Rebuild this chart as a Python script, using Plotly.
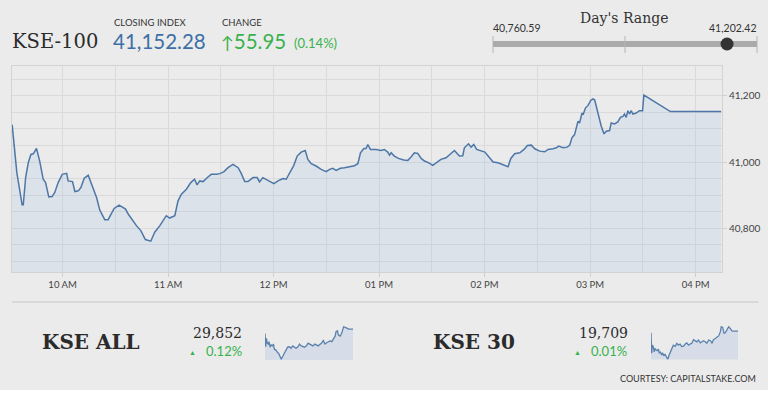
import plotly.graph_objects as go

W, H = 768, 394
DAY = "2019-06-10 "

# ---------------- data ----------------
kse100_times = [
    "09:31:20", "09:34:00", "09:37:00", "09:37:40", "09:39:00", "09:40:30", "09:42:00", "09:43:20",
    "09:45:10", "09:47:00", "09:49:00", "09:50:20", "09:52:10", "09:54:05", "09:55:35", "09:57:30",
    "09:59:50", "10:02:20", "10:03:10", "10:05:40", "10:07:00", "10:08:55", "10:10:25", "10:12:20",
    "10:14:35", "10:15:30", "10:17:25", "10:19:20", "10:21:10", "10:24:00", "10:25:55", "10:27:50",
    "10:29:20", "10:32:10", "10:34:25", "10:35:50", "10:37:20", "10:39:35", "10:42:00", "10:44:30",
    "10:47:05", "10:50:10", "10:52:25", "10:55:20", "10:57:10", "10:59:00", "11:00:55", "11:03:50",
    "11:05:40", "11:07:35", "11:10:25", "11:12:55", "11:15:05", "11:16:30", "11:18:00", "11:19:55",
    "11:22:40", "11:24:35", "11:27:30", "11:29:25", "11:31:50", "11:34:05", "11:36:55", "11:39:50",
    "11:41:40", "11:43:35", "11:45:25", "11:48:20", "11:50:40", "11:52:00", "11:53:55", "11:56:25",
    "11:58:20", "12:00:10", "12:02:30", "12:05:20", "12:07:10", "12:09:05", "12:11:30", "12:13:25",
    "12:15:40", "12:18:00", "12:19:30", "12:21:25", "12:24:10", "12:27:05", "12:29:55", "12:31:50",
    "12:33:40", "12:35:35", "12:38:00", "12:40:20", "12:43:10", "12:46:00", "12:47:55", "12:49:25",
    "12:51:20", "12:52:35", "12:53:35", "12:55:05", "12:58:20", "13:01:05", "13:03:00", "13:04:55",
    "13:05:55", "13:06:50", "13:08:40", "13:11:00", "13:14:00", "13:16:20", "13:18:10", "13:20:05",
    "13:22:00", "13:23:55", "13:25:50", "13:28:35", "13:30:30", "13:33:00", "13:35:10", "13:38:05",
    "13:40:00", "13:42:50", "13:45:40", "13:47:35", "13:48:30", "13:50:50", "13:52:20", "13:53:50",
    "13:55:30", "13:57:55", "14:00:10", "14:02:00", "14:04:50", "14:07:40", "14:10:30", "14:13:20",
    "14:14:55", "14:17:05", "14:20:00", "14:22:25", "14:24:20", "14:26:35", "14:28:30", "14:31:20",
    "14:34:10", "14:36:05", "14:38:55", "14:40:50", "14:42:05", "14:44:35", "14:47:00", "14:48:25",
    "14:49:40", "14:51:10", "14:53:05", "14:54:00", "14:55:25", "14:56:00", "14:57:20", "14:58:50",
    "15:00:20", "15:01:35", "15:02:35", "15:04:30", "15:06:20", "15:07:55", "15:09:10", "15:11:05",
    "15:12:00", "15:13:55", "15:15:45", "15:17:15", "15:18:40", "15:19:35", "15:20:30", "15:21:30",
    "15:22:25", "15:23:25", "15:24:20", "15:26:10", "15:28:05", "15:29:50", "15:30:35", "15:45:40",
    "16:14:30",
]
kse100_values = [
    41113, 40968, 40871, 40871, 40953, 40998, 41023, 41025,
    41041, 41003, 40948, 40938, 40895, 40896, 40908, 40938,
    40963, 40966, 40943, 40941, 40911, 40913, 40923, 40951,
    40960, 40948, 40918, 40893, 40855, 40826, 40826, 40843,
    40860, 40870, 40863, 40858, 40843, 40825, 40808, 40793,
    40766, 40761, 40788, 40808, 40823, 40838, 40831, 40838,
    40883, 40903, 40918, 40938, 40948, 40931, 40943, 40941,
    40955, 40963, 40963, 40965, 40971, 40983, 40993, 40983,
    40965, 40941, 40941, 40953, 40953, 40940, 40953, 40946,
    40940, 40935, 40943, 40950, 40948, 40968, 40990, 41018,
    41030, 41035, 41008, 40995, 40988, 40978, 40971, 40978,
    40981, 40975, 40981, 40983, 40986, 40989, 40995, 41028,
    41041, 41041, 41053, 41038, 41038, 41035, 41038, 41030,
    41021, 41028, 41018, 41011, 41006, 41005, 41015, 41028,
    41026, 41011, 41003, 40997, 40990, 41001, 41008, 41013,
    41021, 41035, 41018, 41019, 41043, 41055, 41045, 41053,
    41038, 41033, 41030, 41018, 41000, 40998, 40993, 40986,
    41011, 41025, 41028, 41038, 41050, 41051, 41040, 41033,
    41031, 41038, 41040, 41043, 41048, 41043, 41045, 41051,
    41073, 41083, 41123, 41118, 41148, 41143, 41163, 41171,
    41186, 41191, 41188, 41143, 41108, 41085, 41093, 41095,
    41118, 41115, 41121, 41135, 41138, 41145, 41135, 41155,
    41145, 41155, 41145, 41148, 41155, 41155, 41202.42, 41152.28,
    41152.28,
]

closing_index = 41152.28
change_pts = 55.95
change_pct = 0.14
day_low = 40760.59
day_high = 41202.42

x_tick_times = ["10:00", "11:00", "12:00", "13:00", "14:00", "15:00", "16:00"]
x_tick_labels = ["10 AM", "11 AM", "12 PM", "01 PM", "02 PM", "03 PM", "04 PM"]
y_tick_values = [40800, 41000, 41200]
y_tick_labels = ["40,800", "41,000", "41,200"]

kseall_minutes = [0, 3, 6, 10, 14, 17, 22, 26, 32, 36, 40, 46, 53, 58, 63, 69, 75, 82, 89, 96,
                  104, 111, 118, 125, 132, 140, 147, 154, 161, 168, 176, 183, 190, 197, 204, 212,
                  219, 226, 233, 240, 248, 255, 262, 269, 276, 284, 291, 298, 302, 308, 312, 320,
                  327, 334, 341, 348, 356, 363, 374]
kseall_values = [29832, 29772, 29810, 29787, 29784, 29795, 29770, 29780, 29776, 29784, 29760,
                 29758, 29747, 29742, 29730, 29716, 29728, 29742, 29758, 29770, 29772, 29765,
                 29776, 29770, 29765, 29772, 29784, 29776, 29772, 29770, 29776, 29788, 29784,
                 29780, 29776, 29784, 29778, 29776, 29782, 29788, 29800, 29784, 29790, 29795,
                 29798, 29795, 29810, 29820, 29840, 29844, 29825, 29820, 29836, 29862, 29860,
                 29855, 29852, 29852, 29852]

kse30_minutes = [0, 3, 6, 10, 14, 17, 22, 26, 32, 36, 40, 46, 50, 55, 60, 68, 72, 78, 84, 89,
                 96, 104, 111, 118, 125, 132, 140, 147, 154, 161, 168, 176, 183, 190, 197, 204,
                 212, 219, 226, 233, 240, 248, 255, 262, 269, 276, 284, 291, 298, 302, 308, 314,
                 320, 327, 334, 341, 348, 356, 363, 374]
kse30_values = [19705, 19649, 19671, 19667, 19653, 19662, 19658, 19656, 19660, 19649, 19653,
                19644, 19650, 19642, 19647, 19635, 19632, 19644, 19653, 19662, 19671, 19668,
                19676, 19671, 19674, 19667, 19668, 19674, 19677, 19671, 19674, 19677, 19686,
                19683, 19680, 19685, 19677, 19680, 19683, 19680, 19676, 19685, 19683, 19677,
                19686, 19689, 19692, 19696, 19707, 19721, 19719, 19703, 19705, 19712, 19721,
                19716, 19710, 19709, 19709, 19709]

kseall_close, kseall_pct = "29,852", "0.12%"
kse30_close, kse30_pct = "19,709", "0.01%"

# ---------------- styling ----------------
BG = "#ebebeb"
GRID = "#dadada"
LINE = "#4d77a6"
FILL = "rgba(150,185,230,0.17)"
GREEN = "#37b24d"
BLUE = "#3d6fa6"
DARK = "#2b2b2b"
SANS = "Lato"
SERIF = "DejaVu Serif"


def px(x):
    return x / W


def py(y):
    return 1 - y / H


fig = go.Figure()

fig.add_trace(go.Scatter(
    x=[DAY + t for t in kse100_times], y=kse100_values, mode="lines",
    line=dict(color=LINE, width=1.5), fill="tozeroy", fillcolor=FILL,
    hoverinfo="skip", xaxis="x", yaxis="y"))

fig.add_trace(go.Scatter(
    x=kseall_minutes, y=kseall_values, mode="lines",
    line=dict(color="#5a82ad", width=1.3), fill="tozeroy", fillcolor="rgba(160,185,225,0.28)",
    hoverinfo="skip", xaxis="x2", yaxis="y2"))

fig.add_trace(go.Scatter(
    x=kse30_minutes, y=kse30_values, mode="lines",
    line=dict(color="#5a82ad", width=1.3), fill="tozeroy", fillcolor="rgba(160,185,225,0.28)",
    hoverinfo="skip", xaxis="x3", yaxis="y3"))

annotations = []


def ann(text, x, y, size, color, family=SANS, xanchor="left", yanchor="middle"):
    annotations.append(dict(text=text, x=px(x), y=py(y), xref="paper", yref="paper",
                            showarrow=False, xanchor=xanchor, yanchor=yanchor, borderpad=0,
                            font=dict(size=size, color=color, family=family)))


# header
ann("KSE-100", 11, 42, 19.5, DARK, SERIF)
ann("CLOSING INDEX", 113, 22, 9.5, "#333333")
ann(f"{closing_index:,.2f}", 112, 41, 20.5, BLUE)
ann("CHANGE", 221, 22, 9.5, "#333333")
ann(f"<span style='font-size:17px'>\u2191</span>{change_pts:.2f}", 220, 41, 20.5, GREEN)
ann(f"({change_pct:.2f}%)", 293, 43, 13, GREEN)

# day's range
ann("Day's Range", 624, 18, 14, "#333333", SERIF, xanchor="center")
ann(f"{day_low:,.2f}", 492, 28, 10.5, "#333333")
ann(f"{day_high:,.2f}", 758, 28, 10.5, "#333333", xanchor="right")

# bottom
ann("<b>KSE ALL</b>", 41, 342, 20, DARK, SERIF)
ann(kseall_close, 217, 333, 14, DARK, SERIF, xanchor="center")
ann("\u25B2", 192, 352, 7, GREEN, xanchor="center")
ann(kseall_pct, 205, 351, 13, GREEN)
ann("<b>KSE 30</b>", 432, 342, 20, DARK, SERIF)
ann(kse30_close, 603, 333, 14, DARK, SERIF, xanchor="center")
ann("\u25B2", 577, 352, 7, GREEN, xanchor="center")
ann(kse30_pct, 590, 351, 13, GREEN)
ann("COURTESY: CAPITALSTAKE.COM", 757, 378, 9, "#333333", xanchor="right")

shapes = []
bar_x0, bar_x1, bar_y = 493, 757, 44
shapes.append(dict(type="line", xref="paper", yref="paper", x0=px(bar_x0), x1=px(bar_x1),
                   y0=py(bar_y), y1=py(bar_y), line=dict(color="#aaaaaa", width=6)))
for tx in (bar_x0, (bar_x0 + bar_x1) / 2, bar_x1):
    shapes.append(dict(type="line", xref="paper", yref="paper", x0=px(tx), x1=px(tx),
                       y0=py(36), y1=py(53), line=dict(color="#b5b5b5", width=1)))
dot_x = bar_x0 + (closing_index - day_low) / (day_high - day_low) * (bar_x1 - bar_x0)
r = 6.5
shapes.append(dict(type="circle", xref="paper", yref="paper", x0=px(dot_x - r), x1=px(dot_x + r),
                   y0=py(bar_y + r), y1=py(bar_y - r), fillcolor="#333333",
                   line=dict(color="#333333", width=0)))
# separator
shapes.append(dict(type="line", xref="paper", yref="paper", x0=px(12), x1=px(758),
                   y0=py(302), y1=py(302), line=dict(color="#d2d2d2", width=1.5)))
# white strip at the bottom
shapes.append(dict(type="rect", xref="paper", yref="paper", x0=0, x1=1, y0=0, y1=py(390),
                   fillcolor="#ffffff", line=dict(width=0), layer="above"))

fig.update_layout(
    width=W, height=H, margin=dict(l=0, r=0, t=0, b=0),
    paper_bgcolor=BG, plot_bgcolor=BG, showlegend=False,
    annotations=annotations, shapes=shapes,
    xaxis=dict(
        domain=[px(12), px(722)], type="date",
        range=[DAY + "09:31:15", DAY + "16:15:00"],
        tickvals=[DAY + t for t in x_tick_times], ticktext=x_tick_labels,
        showgrid=True, gridcolor=GRID, gridwidth=1,
        minor=dict(dtick=30 * 60 * 1000, tick0=DAY + "10:00", showgrid=True, gridcolor=GRID),
        showline=True, linecolor="#d3d3d3", linewidth=1, mirror=True,
        ticks="outside", ticklen=4, tickcolor="#cfcfcf",
        tickfont=dict(family=SANS, size=9.5, color="#444444"),
        zeroline=False, automargin=False, fixedrange=True,
    ),
    yaxis=dict(
        domain=[py(272), py(66)], range=[40668, 41290], side="right",
        tickvals=y_tick_values, ticktext=y_tick_labels,
        showgrid=True, gridcolor=GRID, gridwidth=1,
        minor=dict(dtick=50, showgrid=True, gridcolor=GRID),
        showline=True, linecolor="#d3d3d3", linewidth=1, mirror=True,
        ticks="outside", ticklen=4, tickcolor="#cfcfcf",
        tickfont=dict(family=SANS, size=10, color="#444444"),
        zeroline=False, automargin=False, fixedrange=True,
    ),
    xaxis2=dict(domain=[px(265), px(353)], range=[0, 374], visible=False, anchor="y2"),
    yaxis2=dict(domain=[py(360), py(326)], range=[29712, 29866], visible=False, anchor="x2"),
    xaxis3=dict(domain=[px(651), px(738)], range=[0, 374], visible=False, anchor="y3"),
    yaxis3=dict(domain=[py(359.5), py(326)], range=[19632, 19723], visible=False, anchor="x3"),
)

fig.write_html("out.html", config={"displayModeBar": False},
               post_script="document.body.style.margin='0px';document.body.style.overflow='hidden';")
